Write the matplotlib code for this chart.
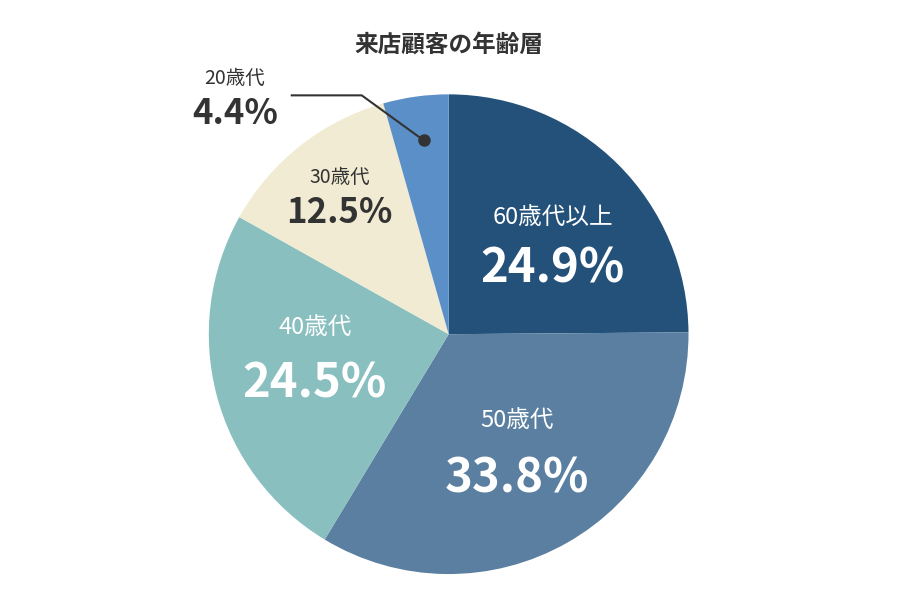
import matplotlib
matplotlib.use("Agg")
import matplotlib.pyplot as plt

plt.rcParams['font.family'] = ['Noto Sans CJK JP', 'DejaVu Sans']

labels = ["60歳代以上", "50歳代", "40歳代", "30歳代", "20歳代"]
values = [24.9, 33.8, 24.5, 12.5, 4.4]
colors = ["#23517a", "#5a7fa0", "#89bfbf", "#f0ebd2", "#5b8fc7"]
title = "来店顧客の年齢層"

fig = plt.figure(figsize=(9, 6), dpi=100)
ax = fig.add_axes([0.232, 0.043, 0.533, 0.8])
ax.pie(values, colors=colors, startangle=90, counterclock=False,
       wedgeprops=dict(linewidth=0))
ax.set_xlim(-1, 1); ax.set_ylim(-1, 1); ax.set_aspect('equal')
ax.axis('off')

def d(px, py):
    return ((px - 449) / 240, (334 - py) / 240)

# (name pos, pct pos, color, name size, pct size)
specs = [
    ((553, 217), (553, 268), "white", 17, 34),
    ((517, 420), (517, 478), "white", 17, 34),
    ((315, 327), (315, 383), "white", 17, 34),
    ((340, 177), (340, 212), "#333333", 14, 25),
    ((235, 78), (235, 113), "#333333", 14, 25),
]
for lab, v, (npos, ppos, c, ns, ps) in zip(labels, values, specs):
    ax.text(*d(*npos), lab, color=c, fontsize=ns, ha='center', va='center', clip_on=False)
    ax.text(*d(*ppos), f"{v}%", color=c, fontsize=ps, fontweight='bold',
            ha='center', va='center', clip_on=False)

xs, ys = zip(d(292, 95), d(362, 95), d(424, 140))
ax.plot(xs, ys, color="#333333", lw=1.5, clip_on=False)
ax.plot([xs[-1]], [ys[-1]], 'o', color="#333333", ms=8, clip_on=False)

fig.text(449 / 900, 1 - 45 / 600, title, fontsize=17, fontweight='bold',
         color="#333333", ha='center', va='center')
fig.savefig("out.png", dpi=100)
